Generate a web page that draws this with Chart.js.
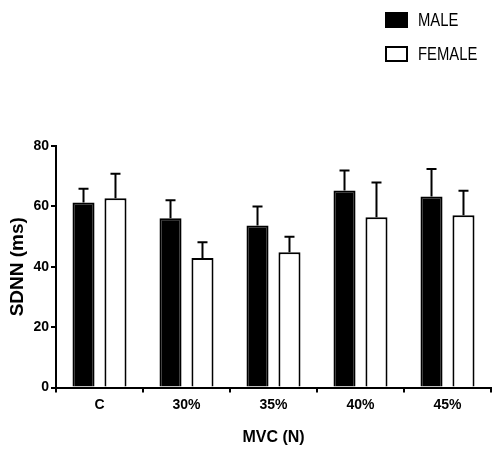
<!DOCTYPE html>
<html>
<head>
<meta charset="utf-8">
<script src="https://cdn.jsdelivr.net/npm/chart.js@4"></script>
<style>
  body { margin: 0; background: #fff; overflow: hidden; }
</style>
</head>
<body>
<canvas id="sdnnChart" width="492" height="449"></canvas>
<script>
// data
const categories = ["C", "30%", "35%", "40%", "45%"];
const maleMean = [61.3, 56.1, 53.7, 65.3, 63.3];
const maleSD = [4.5, 5.9, 6.3, 6.6, 9.1];
const femaleMean = [62.7, 42.9, 44.8, 56.4, 57.1];
const femaleSD = [8.1, 5.2, 5.1, 11.5, 8.1];
const yTicks = [0, 20, 40, 60, 80];

const FONT = "'Liberation Sans', Arial, sans-serif";

// upper error bars with a cap
const errorBars = {
  id: "errorBars",
  afterDatasetsDraw(chart) {
    const ctx = chart.ctx;
    const yScale = chart.scales.y;
    chart.data.datasets.forEach((ds, i) => {
      const meta = chart.getDatasetMeta(i);
      meta.data.forEach((bar, j) => {
        const top = yScale.getPixelForValue(ds.data[j] + ds.errors[j]);
        ctx.save();
        ctx.strokeStyle = "#000";
        ctx.lineWidth = 2;
        ctx.beginPath();
        ctx.moveTo(bar.x, bar.y);
        ctx.lineTo(bar.x, top);
        ctx.moveTo(bar.x - 5, top);
        ctx.lineTo(bar.x + 5, top);
        ctx.stroke();
        ctx.restore();
      });
    });
  },
};

// legend stacked at top right, condensed text
const sideLegend = {
  id: "sideLegend",
  afterDraw(chart) {
    const ctx = chart.ctx;
    const rows = [20, 54];
    chart.data.datasets.forEach((ds, i) => {
      const y = rows[i];
      ctx.save();
      ctx.lineWidth = 2;
      ctx.strokeStyle = "#000";
      ctx.fillStyle = ds.backgroundColor;
      ctx.fillRect(386, y - 7, 21, 14);
      ctx.strokeRect(386, y - 7, 21, 14);
      ctx.fillStyle = "#000";
      ctx.font = "19px " + FONT;
      ctx.textBaseline = "middle";
      ctx.translate(418, y + 1);
      ctx.scale(0.78, 1);
      ctx.fillText(ds.label, 0, 0);
      ctx.restore();
    });
  },
};

new Chart(document.getElementById("sdnnChart"), {
  type: "bar",
  data: {
    labels: categories,
    datasets: [
      {
        label: "MALE",
        data: maleMean,
        errors: maleSD,
        backgroundColor: "#000",
        borderColor: "#000",
        borderWidth: 2,
        borderSkipped: "start",
      },
      {
        label: "FEMALE",
        data: femaleMean,
        errors: femaleSD,
        backgroundColor: "#fff",
        borderColor: "#000",
        borderWidth: 2,
        borderSkipped: "start",
      },
    ],
  },
  options: {
    responsive: false,
    animation: false,
    categoryPercentage: 0.735,
    barPercentage: 0.69,
    layout: { padding: { top: 146, right: 1, left: 0, bottom: 0 } },
    plugins: {
      legend: { display: false },
      tooltip: { enabled: false },
    },
    scales: {
      x: {
        afterFit(scale) { scale.height = 61.5; },
        border: { color: "#000", width: 2 },
        grid: { display: true, drawOnChartArea: false, color: "#000", lineWidth: 2, tickLength: 5 },
        ticks: { color: "#000", padding: 4, font: { family: FONT, size: 14, weight: "bold" } },
        title: {
          display: true,
          text: "MVC (N)",
          color: "#000",
          padding: { top: 0, bottom: 2 },
          font: { family: FONT, size: 16, weight: "bold" },
        },
      },
      y: {
        min: 0,
        max: 80,
        afterFit(scale) { scale.width = 56; },
        afterBuildTicks(scale) { scale.ticks = yTicks.map((v) => ({ value: v })); },
        border: { color: "#000", width: 2 },
        grid: { display: true, drawOnChartArea: false, color: "#000", lineWidth: 2, tickLength: 5 },
        ticks: { color: "#000", padding: 2, font: { family: FONT, size: 14, weight: "bold" } },
        title: {
          display: true,
          text: "SDNN (ms)",
          color: "#000",
          padding: { top: 6, bottom: 0 },
          font: { family: FONT, size: 19, weight: "bold" },
        },
      },
    },
  },
  plugins: [errorBars, sideLegend],
});
</script>
</body>
</html>
